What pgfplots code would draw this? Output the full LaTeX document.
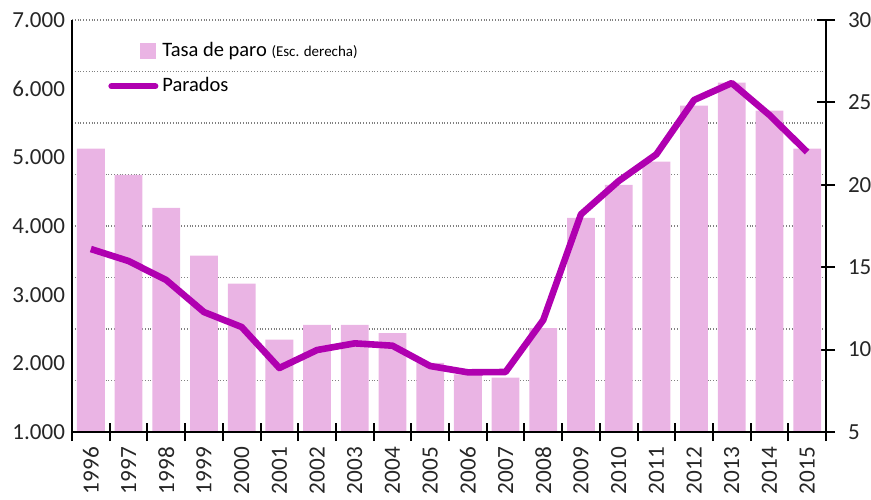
\documentclass[border=0pt]{standalone}
\usepackage{pgfplots}
\pgfplotsset{compat=1.18}
\usepackage{fontspec}
\setmainfont{Carlito}
\definecolor{barpink}{HTML}{EAB4E4}
\definecolor{linepurple}{HTML}{B000B0}
\definecolor{txt}{HTML}{262626}
\begin{document}
\begin{tikzpicture}
\path[use as bounding box] (-36pt,-33.5pt) rectangle (399.5pt,216pt);
\pgfplotsset{
  common/.style={scale only axis, width=377pt, height=206pt, xmin=-0.5, xmax=19.5,
    tick label style={font=\fontsize{11.5}{13}\selectfont, text=txt},
    /pgf/number format/assume math mode=true,
    axis line style={line width=1pt, black},
    every tick/.style={line width=1pt, black}},
}
% grid
\begin{axis}[common, ymin=0, ymax=8, ytick={1,...,8}, yticklabels={}, xtick=\empty,
  axis line style={draw=none}, ytick style={draw=none}, ymajorgrids,
  grid style={densely dotted, gray, line width=0.6pt}]
\end{axis}
% bars, right scale
\begin{axis}[common, ymin=5, ymax=30, axis y line*=right, axis x line=none,
  ytick={5,10,...,30}, tick align=center, major tick length=9pt, xtick=\empty,
  yticklabel style={xshift=3pt},
  ybar, bar width=13.9pt]
\addplot[fill=barpink, draw=none] coordinates {
(0,22.2) (1,20.6) (2,18.6) (3,15.7) (4,14.0) (5,10.6) (6,11.5) (7,11.5) (8,11.0) (9,9.2)
(10,8.5) (11,8.3) (12,11.3) (13,18.0) (14,20.0) (15,21.4) (16,24.8) (17,26.2) (18,24.5) (19,22.2)};
\end{axis}
% line, left scale
\begin{axis}[common, ymin=1000, ymax=7000, axis y line*=left, axis x line*=bottom,
  ytick={1000,2000,...,7000},
  /pgf/number format/1000 sep={.},
  major tick length=0pt, minor tick length=9pt, tick align=center,
  xtick={0,...,19},
  xticklabels={1996,1997,1998,1999,2000,2001,2002,2003,2004,2005,2006,2007,2008,2009,2010,2011,2012,2013,2014,2015},
  minor xtick={-0.5,0.5,...,19.5},
  xticklabel style={rotate=90, anchor=east, xshift=-4pt, font=\fontsize{11.6}{13}\selectfont},
  legend style={at={(0.0477,0.958)}, anchor=north west, draw=none, fill=none, inner sep=0pt,
    font=\fontsize{10.25}{12}\selectfont, row sep=4pt,
    nodes={text height=7.5pt, text depth=2pt, inner sep=2pt}},
  legend cell align=left]
\addlegendimage{legend image code/.code={\fill[barpink] (14.5pt,-3.75pt) rectangle (22pt,3.75pt);}}
\addlegendentry{Tasa de paro {\fontsize{7.5}{9}\selectfont (Esc. derecha)}}
\addplot[line width=3.3pt, color=linepurple, line join=round,
  legend image code/.code={\draw[line width=3pt, line cap=round, linepurple] (0pt,0pt) -- (22pt,0pt);}] coordinates {
(0,3665) (1,3490) (2,3213) (3,2747) (4,2529) (5,1932) (6,2194) (7,2291) (8,2257) (9,1961)
(10,1869) (11,1874) (12,2631) (13,4170) (14,4655) (15,5044) (16,5835) (17,6082) (18,5616) (19,5077)};
\addlegendentry{Parados}
\end{axis}
\end{tikzpicture}
\end{document}
